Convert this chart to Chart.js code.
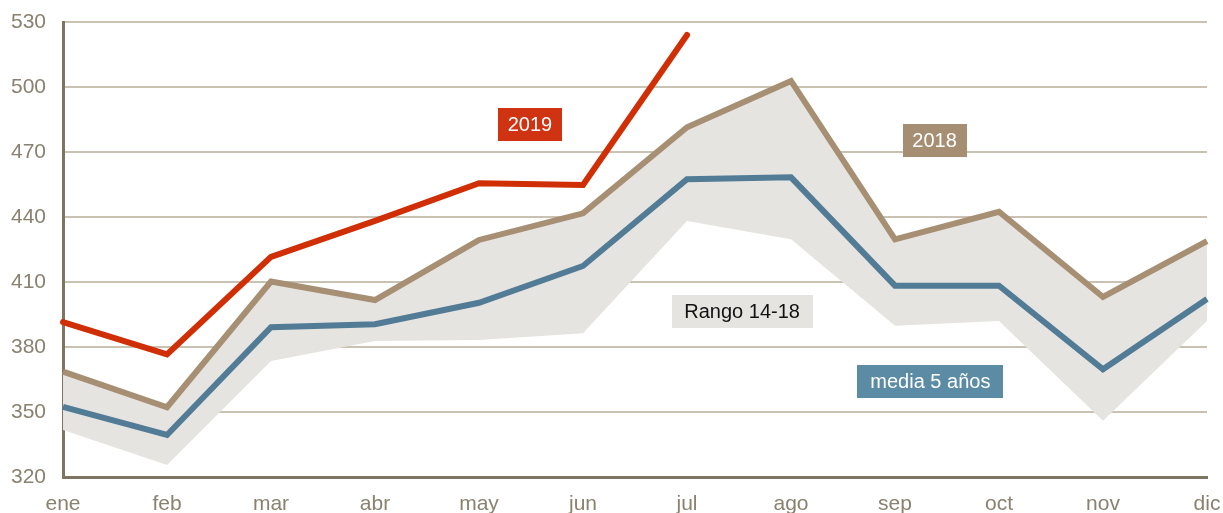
<!DOCTYPE html>
<html>
<head>
<meta charset="utf-8">
<script src="https://cdn.jsdelivr.net/npm/chart.js@4"></script>
<style>
  html, body { margin: 0; padding: 0; background: #fff; }
  #wrap { width: 1223px; height: 513px; }
</style>
</head>
<body>
<div id="wrap"><canvas id="stockChart" width="1223" height="513"></canvas></div>
<script>
// Datos
const meses = ['ene', 'feb', 'mar', 'abr', 'may', 'jun', 'jul', 'ago', 'sep', 'oct', 'nov', 'dic'];
const serie2019 = [391.5, 376.6, 421.6, 438.2, 455.6, 454.8, 524.0];
const serie2018 = [368.6, 352.2, 410.2, 401.7, 429.4, 441.7, 481.4, 502.8, 429.7, 442.4, 403.1, 428.9];
const media5 = [352.4, 339.4, 389.1, 390.5, 400.4, 417.4, 457.4, 458.3, 408.3, 408.3, 369.7, 402.2];
const rangoMax = [368.6, 352.2, 410.2, 401.7, 429.4, 441.7, 481.4, 502.8, 429.7, 442.4, 403.1, 428.9];
const rangoMin = [341.7, 325.5, 373.5, 382.8, 383.2, 386.3, 438.2, 429.7, 389.8, 392.0, 346.0, 392.0];
const yTicks = [320, 350, 380, 410, 440, 470, 500, 530];

// Colores base
const colors = {
    red:   '#d02e04',
    tan:   '#a78f74',
    blue:  '#527c96',
    band:  '#e6e4e1',
    tick:  '#8a8170',
    grid:  '#c9c2b3',
    axis:  '#7d7562',
};

const FONT = '"Liberation Sans", Arial, sans-serif';

// Etiquetas de series (x = índice de mes, y = valor)
const etiquetas = [
    { text: '2019',         x: 4.49, y: 482.7, bg: '#cf3311', fg: '#ffffff', w: 64 },
    { text: '2018',         x: 8.38, y: 475.3, bg: '#a58e72', fg: '#ffffff', w: 64 },
    { text: 'Rango 14-18',  x: 6.53, y: 396.4, bg: '#e6e4e1', fg: '#111111', w: 141 },
    { text: 'media 5 años', x: 8.34, y: 364.1, bg: '#5c8ba6', fg: '#ffffff', w: 146 },
];

const labelPlugin = {
    id: 'seriesLabels',
    afterDatasetsDraw(chart) {
        const { ctx, scales: { x, y } } = chart;
        ctx.save();
        ctx.font = '20px ' + FONT;
        ctx.textAlign = 'center';
        ctx.textBaseline = 'middle';
        etiquetas.forEach(e => {
            const cx = x.getPixelForValue(e.x);
            const cy = y.getPixelForValue(e.y);
            const h = 33;
            ctx.fillStyle = e.bg;
            ctx.fillRect(Math.round(cx - e.w / 2), Math.round(cy - h / 2), e.w, h);
            ctx.fillStyle = e.fg;
            ctx.fillText(e.text, cx, cy + 1);
        });
        ctx.restore();
    }
};

const lineBase = {
    borderWidth: 6,
    pointRadius: 0,
    pointHoverRadius: 0,
    tension: 0,
    borderJoinStyle: 'miter',
    fill: false,
};

new Chart(document.getElementById('stockChart'), {
    type: 'line',
    data: {
        labels: meses,
        datasets: [
            { ...lineBase, label: '2019', data: serie2019, borderColor: colors.red, borderCapStyle: 'round' },
            { ...lineBase, label: '2018', data: serie2018, borderColor: colors.tan },
            { ...lineBase, label: 'media 5 años', data: media5, borderColor: colors.blue },
            { label: 'max', data: rangoMax, borderWidth: 0, pointRadius: 0, borderColor: 'transparent', fill: false },
            { label: 'Rango 14-18', data: rangoMin, borderWidth: 0, pointRadius: 0, borderColor: 'transparent',
              backgroundColor: colors.band, fill: '-1' },
        ]
    },
    options: {
        responsive: false,
        animation: false,
        layout: { padding: { top: 22, right: 16, left: 0, bottom: 0 } },
        plugins: {
            legend: { display: false },
            tooltip: { enabled: false },
        },
        scales: {
            x: {
                offset: false,
                grid: { display: false, drawTicks: false },
                border: { display: true, color: colors.axis, width: 3 },
                ticks: { color: colors.tick, font: { family: FONT, size: 21 }, padding: 15, maxRotation: 0, autoSkip: false },
                afterFit: s => { s.height = 36; s.paddingRight = 0; s.paddingLeft = 0; },
            },
            y: {
                min: 320,
                max: 530,
                afterBuildTicks: s => { s.ticks = yTicks.map(v => ({ value: v })); },
                grid: { color: colors.grid, lineWidth: 2, drawTicks: false },
                border: { display: true, color: colors.axis, width: 3 },
                ticks: { color: colors.tick, font: { family: FONT, size: 21 }, padding: 17 },
                afterFit: s => { s.width = 63; s.paddingTop = 0; s.paddingBottom = 0; },
            }
        }
    },
    plugins: [labelPlugin]
});
</script>
</body>
</html>
